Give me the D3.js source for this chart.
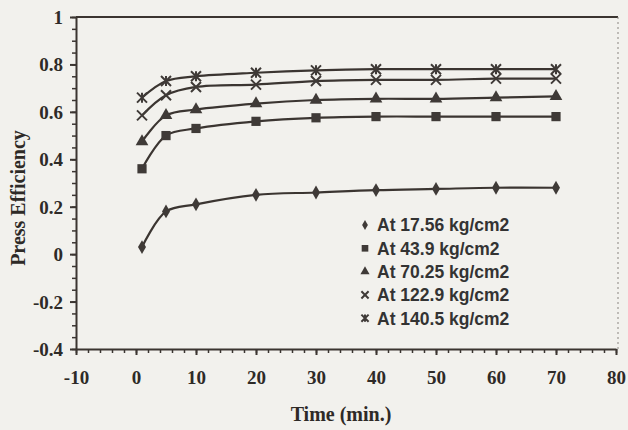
<!DOCTYPE html>
<html><head><meta charset="utf-8">
<script src="https://cdn.jsdelivr.net/npm/d3@7"></script>
<style>body{margin:0;background:#f2f1ed}svg{display:block}</style>
</head><body><svg id="c" width="628" height="430"></svg>
<script>
// ---- data ----
const times = [1, 5, 10, 20, 30, 40, 50, 60, 70];
const seriesNames = ["At 17.56 kg/cm2", "At 43.9 kg/cm2", "At 70.25 kg/cm2", "At 122.9 kg/cm2", "At 140.5 kg/cm2"];
const eff1756 = [0.03, 0.18, 0.21, 0.25, 0.26, 0.27, 0.275, 0.28, 0.28];
const eff439  = [0.36, 0.50, 0.53, 0.56, 0.575, 0.58, 0.58, 0.58, 0.58];
const eff7025 = [0.475, 0.585, 0.61, 0.635, 0.65, 0.655, 0.655, 0.66, 0.665];
const eff1229 = [0.585, 0.67, 0.705, 0.715, 0.73, 0.735, 0.735, 0.74, 0.74];
const eff1405 = [0.66, 0.73, 0.75, 0.765, 0.775, 0.78, 0.78, 0.78, 0.78];
const xTicks = [-10, 0, 10, 20, 30, 40, 50, 60, 70, 80];
const yTicks = [-0.4, -0.2, 0, 0.2, 0.4, 0.6, 0.8, 1];
const xLabel = "Time (min.)";
const yLabel = "Press Efficiency";

const allSeries = [eff1756, eff439, eff7025, eff1229, eff1405];
const markerKinds = ["diamond", "square", "triangle", "x", "star"];

// ---- layout ----
const svg = d3.select("#c");
const ink = "#3b3531";
const serif = "'Liberation Serif','Times New Roman',serif";
const x = d3.scaleLinear().domain([-10, 80]).range([76, 616]);
const y = d3.scaleLinear().domain([-0.4, 1]).range([349, 17]);
const fmt = d => String(+d.toFixed(1)).replace("\u2212", "-");

// frame (top and right)
svg.append("line").attr("x1", 76).attr("x2", 618).attr("y1", y(1)).attr("y2", y(1))
  .attr("stroke", ink).attr("stroke-width", 2);
svg.append("line").attr("x1", 618).attr("x2", 618).attr("y1", y(1)).attr("y2", y(-0.4))
  .attr("stroke", "#8a8580").attr("stroke-width", 1).attr("stroke-dasharray", "2,3");

// minor ticks
const yMinor = d3.range(-0.4, 1.0001, 0.05);
svg.append("g").attr("transform", `translate(${x(-10)},0)`)
  .call(d3.axisLeft(y).tickValues(yMinor).tickSize(4).tickFormat(""))
  .call(g => g.selectAll("line").attr("stroke", ink).attr("stroke-width", 1.5))
  .call(g => g.select(".domain").remove());
const xMinor = d3.range(-10, 80.001, 2);
svg.append("g").attr("transform", `translate(0,${y(-0.4)})`)
  .call(d3.axisBottom(x).tickValues(xMinor).tickSize(4).tickFormat(""))
  .call(g => g.selectAll("line").attr("stroke", ink).attr("stroke-width", 1.5))
  .call(g => g.select(".domain").remove());

// major axes
const yAxis = svg.append("g").attr("transform", `translate(${x(-10)},0)`)
  .call(d3.axisLeft(y).tickValues(yTicks).tickSize(6).tickSizeOuter(0).tickPadding(7).tickFormat(fmt));
const xAxis = svg.append("g").attr("transform", `translate(0,${y(-0.4)})`)
  .call(d3.axisBottom(x).tickValues(xTicks).tickSize(6).tickSizeOuter(0).tickPadding(16).tickFormat(fmt));
[yAxis, xAxis].forEach(g => {
  g.attr("font-family", serif);
  g.select(".domain").attr("stroke", ink).attr("stroke-width", 2);
  g.selectAll(".tick line").attr("stroke", ink).attr("stroke-width", 2);
  g.selectAll("text").attr("fill", "#2e2a27")
    .style("font-family", serif)
    .style("font-weight", "bold").style("font-size", "19px");
});
yAxis.selectAll("text").attr("dy", "0.34em");

// curves
const line = d3.line().x((d, i) => x(times[i])).y(d => y(d)).curve(d3.curveCatmullRom.alpha(0.5));
allSeries.forEach(s => {
  svg.append("path").attr("d", line(s)).attr("fill", "none")
    .attr("stroke", ink).attr("stroke-width", 2.2);
});

// markers
function marker(g, kind, cx, cy, r) {
  const fill = "#3f3a37";
  if (kind === "diamond") {
    g.append("path").attr("d", d3.symbol(d3.symbolDiamond, r * r * 2.2)())
      .attr("transform", `translate(${cx},${cy})`).attr("fill", fill);
  } else if (kind === "square") {
    g.append("path").attr("d", d3.symbol(d3.symbolSquare, r * r * 3.4)())
      .attr("transform", `translate(${cx},${cy})`).attr("fill", fill);
  } else if (kind === "triangle") {
    g.append("path").attr("d", d3.symbol(d3.symbolTriangle, r * r * 2.8)())
      .attr("transform", `translate(${cx},${cy})`).attr("fill", fill);
  } else if (kind === "x") {
    g.append("path").attr("d", `M${-r},${-r}L${r},${r}M${-r},${r}L${r},${-r}`)
      .attr("transform", `translate(${cx},${cy})`).attr("stroke", fill)
      .attr("stroke-width", 2).attr("fill", "none");
  } else {
    g.append("path").attr("d", `M${-r},${-r}L${r},${r}M${-r},${r}L${r},${-r}M0,${-r}L0,${r}`)
      .attr("transform", `translate(${cx},${cy})`).attr("stroke", fill)
      .attr("stroke-width", 2).attr("fill", "none");
  }
}
const mg = svg.append("g");
allSeries.forEach((s, k) => {
  s.forEach((v, i) => marker(mg, markerKinds[k], x(times[i]), y(v), 5));
});

// legend
const lg = svg.append("g");
seriesNames.forEach((name, k) => {
  const ly = 225 + k * 23.3;
  marker(lg, markerKinds[k], 365, ly, 3.6);
  lg.append("text").attr("x", 377).attr("y", ly).attr("dy", "0.36em")
    .text(name).attr("fill", "#333")
    .style("font-family", "'Liberation Sans',Arial,sans-serif")
    .style("font-weight", "bold").style("font-size", "17.5px");
});

// axis titles
svg.append("text").attr("x", 341).attr("y", 421).attr("text-anchor", "middle")
  .text(xLabel).attr("fill", "#2e2a27")
  .style("font-family", serif)
  .style("font-weight", "bold").style("font-size", "20px");
svg.append("text").attr("transform", "translate(25,198) rotate(-90)")
  .attr("text-anchor", "middle").text(yLabel).attr("fill", "#2e2a27")
  .style("font-family", serif)
  .style("font-weight", "bold").style("font-size", "20px");
</script></body></html>
